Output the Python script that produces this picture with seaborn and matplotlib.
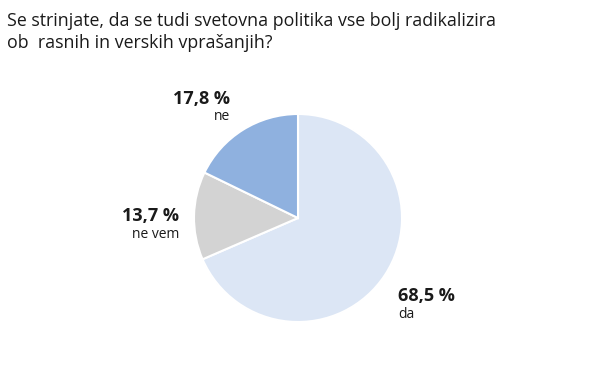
import matplotlib
matplotlib.use("Agg")
import matplotlib.pyplot as plt
import seaborn as sns

# ==========================================================
# Data
# ==========================================================

labels = ["da", "ne vem", "ne"]
values = [68.5, 13.7, 17.8]
colors = ["#dce6f5", "#d3d3d3", "#8fb1df"]

title = ("Se strinjate, da se tudi svetovna politika vse bolj radikalizira\n"
         "ob  rasnih in verskih vprašanjih?")

sns.set_theme(style="white")
plt.rcParams["font.family"] = ["Open Sans", "DejaVu Sans"]

W, H = 600, 370
fig = plt.figure(figsize=(W / 100, H / 100), dpi=100)
fig.patch.set_facecolor("white")

# pie axes: centre ~ (298, 218) px, radius ~104 px
cx, cy, r = 298, 218, 104
ax = fig.add_axes([(cx - r) / W, (H - cy - r) / H, 2 * r / W, 2 * r / H])
ax.pie(
    values,
    colors=colors,
    startangle=90,
    counterclock=False,
    radius=1,
    wedgeprops={"edgecolor": "white", "linewidth": 1.5},
)
ax.set_xlim(-1, 1)
ax.set_ylim(-1, 1)
ax.set_aspect("equal")
ax.axis("off")

# title
fig.text(7 / W, 1 - 12 / H, title, ha="left", va="top",
         fontsize=12.8, color="#1a1a1a", linespacing=1.3)


def fmt(v):
    return f"{v:.1f}".replace(".", ",") + " %"


# labels (pixel anchors)
label_pos = {
    "da": (398, 296, "left"),
    "ne vem": (179, 216, "right"),
    "ne": (230, 99, "right"),
}
for lab, val in zip(labels, values):
    x, y, ha = label_pos[lab]
    fig.text(x / W, 1 - y / H, fmt(val), ha=ha, va="center",
             fontsize=13, fontweight="bold", color="#1a1a1a")
    fig.text(x / W, 1 - (y + 18) / H, lab, ha=ha, va="center",
             fontsize=10, color="#1a1a1a")

fig.savefig("out.png", dpi=100, facecolor="white")
